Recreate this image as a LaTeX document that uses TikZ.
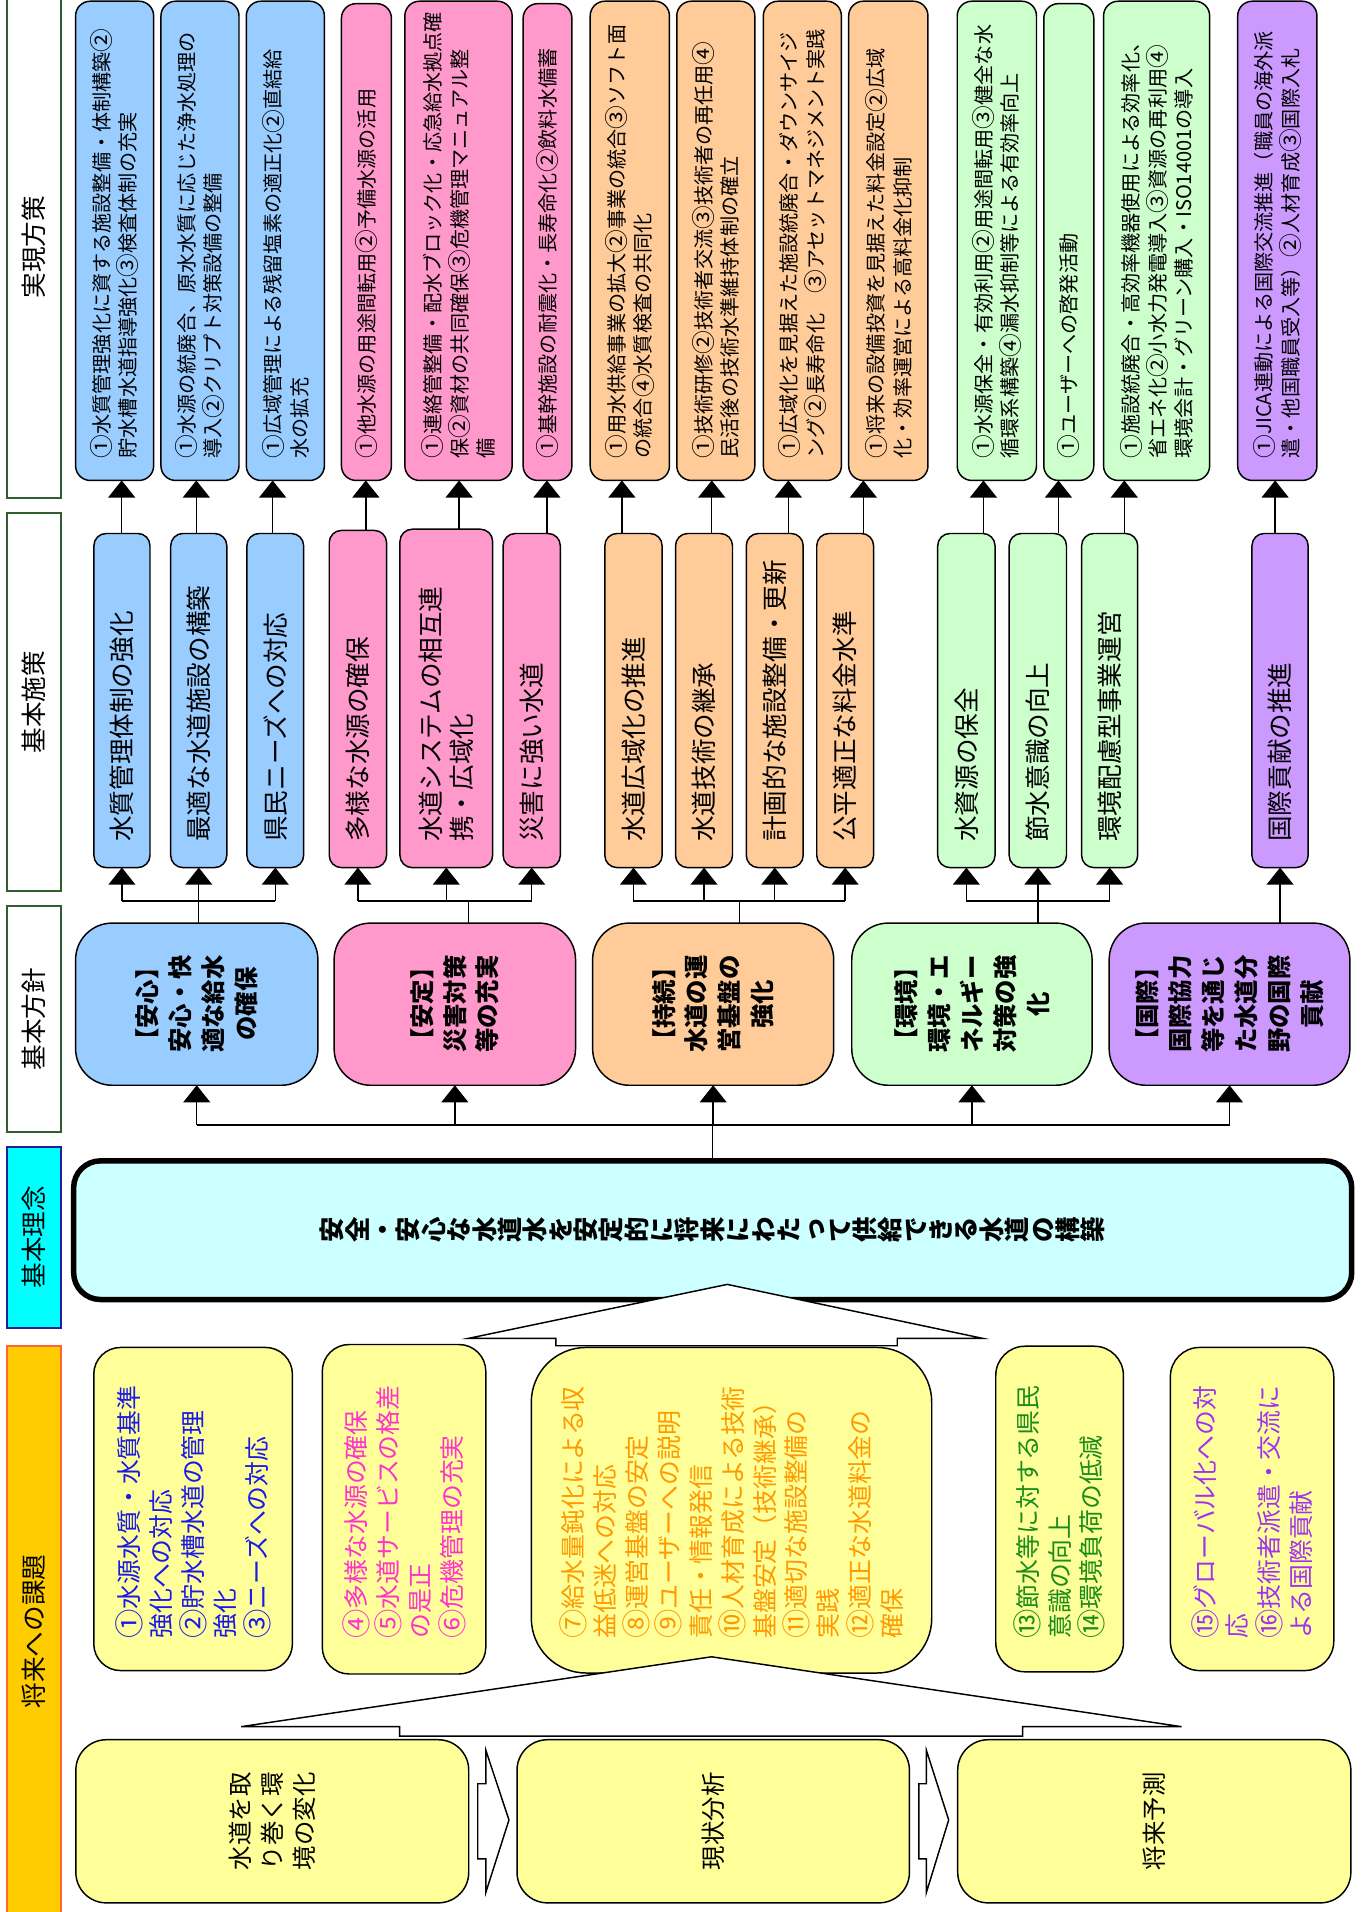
\documentclass[tikz,border=0pt]{standalone}
\usepackage{fontspec}
\usepackage{newunicodechar}
\setmainfont{Noto Sans CJK JP}
\usetikzlibrary{arrows.meta,calc}
\definecolor{cBlue}{HTML}{99CCFF}
\definecolor{cPink}{HTML}{FF99CC}
\definecolor{cOrange}{HTML}{FFCC99}
\definecolor{cGreen}{HTML}{CCFFCC}
\definecolor{cPurple}{HTML}{CC99FF}
\definecolor{cYellow}{HTML}{FFFF99}
\definecolor{cLCyan}{HTML}{CCFFFF}
\definecolor{cCyan}{HTML}{00FFFF}
\definecolor{cGold}{HTML}{FFCC00}
\definecolor{lGreen}{HTML}{2F5F2F}
\definecolor{lNavy}{HTML}{1F1F99}
\definecolor{lOrange}{HTML}{FF6633}
\definecolor{tBlue}{HTML}{1A1AE6}
\definecolor{tMag}{HTML}{FF33CC}
\definecolor{tOrg}{HTML}{FF9900}
\definecolor{tGrn}{HTML}{1A8C1A}
\definecolor{tPur}{HTML}{A033F0}
\newcommand\fs[2]{\fontsize{#1}{#2}\selectfont}
\newcommand\bx[6]{\node[#6,minimum width={#4-#2},minimum height={#5-#3}] (#1) at ({(#2+#4)/2},{(#3+#5)/2}) {};}
\def\rotchars#1{\ifx#1\relax\else\rotatebox{90}{\raisebox{0pt}[0.88em][0.12em]{#1}}\expandafter\rotchars\fi}
\newcommand\cnum[1]{\raisebox{-0.07em}{\scalebox{1.18}{\char#1\relax}}}
\newunicodechar{①}{\cnum{"2460}}
\newunicodechar{②}{\cnum{"2461}}
\newunicodechar{③}{\cnum{"2462}}
\newunicodechar{④}{\cnum{"2463}}
\newunicodechar{⑤}{\cnum{"2464}}
\newunicodechar{⑥}{\cnum{"2465}}
\newunicodechar{⑦}{\cnum{"2466}}
\newunicodechar{⑧}{\cnum{"2467}}
\newunicodechar{⑨}{\cnum{"2468}}
\newunicodechar{⑩}{\cnum{"2469}}
\newunicodechar{⑪}{\cnum{"246A}}
\newunicodechar{⑫}{\cnum{"246B}}
\newunicodechar{⑬}{\cnum{"246C}}
\newunicodechar{⑭}{\cnum{"246D}}
\newunicodechar{⑮}{\cnum{"246E}}
\newunicodechar{⑯}{\cnum{"246F}}
\begin{document}
\begin{tikzpicture}[x=1pt,y=-1pt,
  box/.style={rectangle,draw=black,line width=1.2pt,inner sep=0pt,outer sep=0pt},
  lbl/.style={rectangle,draw=lGreen,line width=1.6pt,fill=white,inner sep=0pt,outer sep=0pt},
  rtext/.style={rotate=90,inner sep=0pt,align=left,text=black},
  ln/.style={line width=1.2pt},
  arr/.style={line width=1.2pt,-{Triangle[width=22pt,length=14pt]}},
  rfont/.style={font=\fs{16.5}{21.7}},
  sfont/.style={font=\fs{21}{25.6}},
  hfont/.style={font=\bfseries\fs{20}{27}},
  ifont/.style={font=\fs{20.4}{26.2}},
  bfont/.style={font=\fs{20}{26.5}}]
\useasboundingbox (0,0) rectangle (1117,1568);
\clip (0,0) rectangle (1117,1568);

% ---------- row labels ----------
\bx{L1}{5.7}{-3}{50}{408.7}{lbl}
\bx{L2}{5.7}{421}{50}{731}{lbl}
\bx{L3}{5.7}{743}{50}{928.4}{lbl}
\bx{L4}{5.7}{940.4}{50}{1089}{lbl,draw=lNavy,fill=cCyan}
\bx{L5}{5.7}{1104}{50}{1572}{lbl,draw=lOrange,fill=cGold}
\node[rtext,font=\fs{21}{25}] (tL1) at (L1.center) {実現方策};
\node[rtext,font=\fs{21}{25}] (tL2) at (L2.center) {基本施策};
\node[rtext,font=\fs{21}{25}] (tL3) at (L3.center) {基本方針};
\node[rtext,font=\fs{21}{25}] (tL4) at (L4.center) {基本理念};
\node[rtext,font=\fs{21}{25}] (tL5) at (L5.center) {将来への課題};

% ---------- 実現方策 boxes ----------
\bx{R1}{62}{1}{126}{394}{box,fill=cBlue,rounded corners=12pt}
\bx{R2}{132}{1}{196}{394}{box,fill=cBlue,rounded corners=12pt}
\bx{R3}{202}{1}{266}{394}{box,fill=cBlue,rounded corners=12pt}
\bx{R4}{280}{3}{321}{394}{box,fill=cPink,rounded corners=12pt}
\bx{R5}{332}{1}{420}{394}{box,fill=cPink,rounded corners=12pt}
\bx{R6}{429}{3}{469}{394}{box,fill=cPink,rounded corners=12pt}
\bx{R7}{484}{1}{549}{394}{box,fill=cOrange,rounded corners=12pt}
\bx{R8}{555}{1}{619}{394}{box,fill=cOrange,rounded corners=12pt}
\bx{R9}{626}{1}{690}{394}{box,fill=cOrange,rounded corners=12pt}
\bx{R10}{696}{1}{761}{394}{box,fill=cOrange,rounded corners=12pt}
\bx{R11}{785}{1}{850}{394}{box,fill=cGreen,rounded corners=12pt}
\bx{R12}{856}{3}{897}{394}{box,fill=cGreen,rounded corners=12pt}
\bx{R13}{905}{1}{992}{394}{box,fill=cGreen,rounded corners=12pt}
\bx{R14}{1015}{1}{1080}{394}{box,fill=cPurple,rounded corners=12pt}

\node[rtext,rfont,anchor=west] (tR1) at ($(R1.south)+(0,-18)$) {①水質管理強化に資する施設整備・体制構築②\\貯水槽水道指導強化③検査体制の充実};
\node[rtext,rfont,anchor=west] (tR2) at ($(R2.south)+(0,-18)$) {①水源の統廃合、原水水質に応じた浄水処理の\\導入②クリプト対策設備の整備};
\node[rtext,rfont,anchor=west] (tR3) at ($(R3.south)+(0,-18)$) {①広域管理による残留塩素の適正化②直結給\\水の拡充};
\node[rtext,rfont,anchor=west] (tR4) at ($(R4.south)+(0,-18)$) {①他水源の用途間転用②予備水源の活用};
\node[rtext,rfont,anchor=west] (tR5) at ($(R5.south)+(0,-18)$) {①連絡管整備・配水ブロック化・応急給水拠点確\\保②資材の共同確保③危機管理マニュアル整\\備};
\node[rtext,rfont,anchor=west] (tR6) at ($(R6.south)+(0,-18)$) {①基幹施設の耐震化・長寿命化②飲料水備蓄};
\node[rtext,rfont,anchor=west] (tR7) at ($(R7.south)+(0,-18)$) {①用水供給事業の拡大②事業の統合③ソフト面\\の統合④水質検査の共同化};
\node[rtext,rfont,anchor=west] (tR8) at ($(R8.south)+(0,-18)$) {①技術研修②技術者交流③技術者の再任用④\\民活後の技術水準維持体制の確立};
\node[rtext,rfont,anchor=west] (tR9) at ($(R9.south)+(0,-18)$) {①広域化を見据えた施設統廃合・ダウンサイジ\\ング②長寿命化　③アセットマネジメント実践};
\node[rtext,rfont,anchor=west] (tR10) at ($(R10.south)+(0,-18)$) {①将来の設備投資を見据えた料金設定②広域\\化・効率運営による高料金化抑制};
\node[rtext,rfont,anchor=west] (tR11) at ($(R11.south)+(0,-18)$) {①水源保全・有効利用②用途間転用③健全な水\\循環系構築④漏水抑制等による有効率向上};
\node[rtext,rfont,anchor=west] (tR12) at ($(R12.south)+(0,-18)$) {①ユーザーへの啓発活動};
\node[rtext,rfont,anchor=west] (tR13) at ($(R13.south)+(0,-18)$) {①施設統廃合・高効率機器使用による効率化、\\省エネ化②小水力発電導入③資源の再利用④\\環境会計・グリーン購入・ISO14001の導入};
\node[rtext,rfont,anchor=west] (tR14) at ($(R14.south)+(0,-18)$) {①JICA連動による国際交流推進（職員の海外派\\遣・他国職員受入等）②人材育成③国際入札};

% ---------- 基本施策 boxes ----------
\bx{S1}{77}{437.5}{123}{711.5}{box,fill=cBlue,rounded corners=10pt}
\bx{S2}{140}{437.5}{186}{711.5}{box,fill=cBlue,rounded corners=10pt}
\bx{S3}{202.5}{437.5}{249}{711.5}{box,fill=cBlue,rounded corners=10pt}
\bx{S4}{270}{435}{317}{711.5}{box,fill=cPink,rounded corners=10pt}
\bx{S5}{328}{434}{404}{711.5}{box,fill=cPink,rounded corners=10pt}
\bx{S6}{412.6}{437.5}{459.5}{711.5}{box,fill=cPink,rounded corners=10pt}
\bx{S7}{496}{437.5}{543}{711.5}{box,fill=cOrange,rounded corners=10pt}
\bx{S8}{554}{437.5}{600.7}{711.5}{box,fill=cOrange,rounded corners=10pt}
\bx{S9}{612}{437.5}{658.7}{711.5}{box,fill=cOrange,rounded corners=10pt}
\bx{S10}{669.8}{437.5}{716.4}{711.5}{box,fill=cOrange,rounded corners=10pt}
\bx{S11}{769}{437.5}{816}{711.5}{box,fill=cGreen,rounded corners=10pt}
\bx{S12}{827.6}{437.5}{874.6}{711.5}{box,fill=cGreen,rounded corners=10pt}
\bx{S13}{887}{437.5}{933}{711.5}{box,fill=cGreen,rounded corners=10pt}
\bx{S14}{1026.7}{437.5}{1072.8}{711.5}{box,fill=cPurple,rounded corners=10pt}

\node[rtext,sfont,anchor=west] (tS1) at ($(S1.south)+(0,-21)$) {水質管理体制の強化};
\node[rtext,sfont,anchor=west] (tS2) at ($(S2.south)+(0,-21)$) {最適な水道施設の構築};
\node[rtext,sfont,anchor=west] (tS3) at ($(S3.south)+(0,-21)$) {県民ニーズへの対応};
\node[rtext,sfont,anchor=west] (tS4) at ($(S4.south)+(0,-21)$) {多様な水源の確保};
\node[rtext,sfont,anchor=west] (tS5) at ($(S5.south)+(0,-21)$) {水道システムの相互連\\携・広域化};
\node[rtext,sfont,anchor=west] (tS6) at ($(S6.south)+(0,-21)$) {災害に強い水道};
\node[rtext,sfont,anchor=west] (tS7) at ($(S7.south)+(0,-21)$) {水道広域化の推進};
\node[rtext,sfont,anchor=west] (tS8) at ($(S8.south)+(0,-21)$) {水道技術の継承};
\node[rtext,sfont,anchor=west] (tS9) at ($(S9.south)+(0,-21)$) {計画的な施設整備・更新};
\node[rtext,sfont,anchor=west] (tS10) at ($(S10.south)+(0,-21)$) {公平適正な料金水準};
\node[rtext,sfont,anchor=west] (tS11) at ($(S11.south)+(0,-21)$) {水資源の保全};
\node[rtext,sfont,anchor=west] (tS12) at ($(S12.south)+(0,-21)$) {節水意識の向上};
\node[rtext,sfont,anchor=west] (tS13) at ($(S13.south)+(0,-21)$) {環境配慮型事業運営};
\node[rtext,sfont,anchor=west] (tS14) at ($(S14.south)+(0,-21)$) {国際貢献の推進};

% arrows 施策 -> 方策
\foreach \s/\r/\x in {S1/R1/99.8,S2/R2/161,S3/R3/223.6,S4/R4/300,S5/R5/376.5,S6/R6/448.5,S7/R7/510,S8/R8/583.7,S9/R9/646.5,S10/R10/708,S11/R11/806.5,S12/R12/868,S13/R13/922,S14/R14/1045.7}{
  \coordinate (ax) at (\x,0);
  \draw[arr] (\s.north -| ax) -- (\r.south -| ax);
}

% ---------- 基本方針 boxes ----------
\bx{H1}{62}{757}{260.7}{890}{box,fill=cBlue,rounded corners=30pt}
\bx{H2}{274}{757}{472}{890}{box,fill=cPink,rounded corners=30pt}
\bx{H3}{486}{757}{683.7}{890}{box,fill=cOrange,rounded corners=30pt}
\bx{H4}{698.5}{757}{895.6}{890}{box,fill=cGreen,rounded corners=30pt}
\bx{H5}{909.6}{757}{1107}{890}{box,fill=cPurple,rounded corners=30pt}
\node[rtext,hfont,align=center] (tH1) at (H1.center) {【安心】\\安心・快\\適な給水\\の確保};
\node[rtext,hfont,align=center] (tH2) at (H2.center) {【安定】\\災害対策\\等の充実};
\node[rtext,hfont,align=center] (tH3) at (H3.center) {【持続】\\水道の運\\営基盤の\\強化};
\node[rtext,hfont,align=center] (tH4) at (H4.center) {【環境】\\環境・エ\\ネルギー\\対策の強\\化};
\node[rtext,hfont,align=center] (tH5) at (H5.center) {【国際】\\国際協力\\等を通じ\\た水道分\\野の国際\\貢献};

% connectors 方針 -> 施策
\coordinate (jy) at (0,739);
\coordinate (xP) at (384.4,0);
\coordinate (xO) at (606.3,0);
\draw[ln] (S2.south |- H1.north) -- (S2.south |- jy);
\draw[ln] (S1.south |- jy) -- (S3.south |- jy);
\foreach \n in {S1,S2,S3} \draw[arr] (\n.south |- jy) -- (\n.south);
\draw[ln] (xP |- H2.north) -- (xP |- jy);
\draw[ln] (S4.south |- jy) -- (S6.south |- jy);
\foreach \n in {S4,S5,S6} \draw[arr] (\n.south |- jy) -- (\n.south);
\draw[ln] (xO |- H3.north) -- (xO |- jy);
\draw[ln] (S7.south |- jy) -- (S10.south |- jy);
\foreach \n in {S7,S8,S9,S10} \draw[arr] (\n.south |- jy) -- (\n.south);
\draw[ln] (S12.south |- H4.north) -- (S12.south |- jy);
\draw[ln] (S11.south |- jy) -- (S13.south |- jy);
\foreach \n in {S11,S12,S13} \draw[arr] (\n.south |- jy) -- (\n.south);
\draw[arr] (S14.south |- H5.north) -- (S14.south);

% ---------- 基本理念 ----------
\bx{K}{60.4}{952}{1108.5}{1065.7}{box,fill=cLCyan,line width=4.5pt,rounded corners=22pt}
\node[inner sep=0pt,font=\bfseries\fs{20.8}{25}] (tK) at (K.center) {\rotchars 安全・安心な水道水を安定的に将来にわたって供給できる水道の構築\relax};
\coordinate (jk) at (0,922.5);
\draw[ln] (K.north) -- (K.north |- jk);
\draw[ln] (H1.south |- jk) -- (H5.south |- jk);
\foreach \n in {H1,H2,H3,H4,H5} \draw[arr] (\n.south |- jk) -- (\n.south);

% upper block arrow
\draw[ln,fill=white] (455.8,1103.6) -- (455.8,1097.5) -- (384.4,1097.5) -- (596.4,1053.3) -- (805.6,1097.5) -- (735.8,1097.5) -- (735.8,1103.6) -- cycle;

% ---------- 課題 boxes ----------
\bx{IA}{76.9}{1105}{239.8}{1370}{box,fill=cYellow,rounded corners=22pt}
\bx{IB}{264.3}{1102.6}{398.4}{1372.8}{box,fill=cYellow,rounded corners=22pt}
\bx{IC}{435.7}{1105}{764.1}{1372}{box,fill=cYellow,rounded corners=45pt}
\bx{ID}{816.6}{1104}{921.3}{1371}{box,fill=cYellow,rounded corners=24pt}
\bx{IE}{959.8}{1105}{1093.8}{1370}{box,fill=cYellow,rounded corners=24pt}
\node[rtext,ifont,text=tBlue,anchor=west] (tIA) at ($(IA.south)+(0,-26)$) {①水源水質・水質基準\\強化への対応\\②貯水槽水道の管理\\強化\\③ニーズへの対応};
\node[rtext,ifont,text=tMag,anchor=west] (tIB) at ($(IB.south)+(0,-28.8)$) {④多様な水源の確保\\⑤水道サービスの格差\\の是正\\⑥危機管理の充実};
\node[rtext,ifont,text=tOrg,anchor=west] (tIC) at ($(IC.south)+(0,-28)$) {⑦給水量鈍化による収\\益低迷への対応\\⑧運営基盤の安定\\⑨ユーザーへの説明\\責任・情報発信\\⑩人材育成による技術\\基盤安定（技術継承）\\⑪適切な施設整備の\\実践\\⑫適正な水道料金の\\確保};
\node[rtext,ifont,text=tGrn,anchor=west] (tID) at ($(ID.south)+(0,-27)$) {⑬節水等に対する県民\\意識の向上\\⑭環境負荷の低減};
\node[rtext,ifont,text=tPur,anchor=west] (tIE) at ($(IE.south)+(0,-26)$) {⑮グローバル化への対\\応\\⑯技術者派遣・交流に\\よる国際貢献};

% lower block arrow
\draw[ln,fill=white] (327.7,1423.8) -- (327.7,1416) -- (197.7,1416) -- (583.5,1358.7) -- (969,1416) -- (838.7,1416) -- (838.7,1423.8) -- cycle;

% ---------- bottom boxes ----------
\bx{BB1}{62.2}{1426.7}{384.4}{1560.5}{box,fill=cYellow,rounded corners=25pt}
\bx{BB2}{424}{1426.7}{745.8}{1560.5}{box,fill=cYellow,rounded corners=25pt}
\bx{BB3}{785.4}{1426.7}{1107.8}{1560.5}{box,fill=cYellow,rounded corners=25pt}
\node[rtext,bfont,align=center] (tB1) at (BB1.center) {水道を取\\り巻く環\\境の変化};
\node[rtext,bfont,align=center] (tB2) at (BB2.center) {現状分析};
\node[rtext,bfont,align=center] (tB3) at (BB3.center) {将来予測};

% hollow arrows between bottom boxes
\draw[ln,fill=white] (391.8,1462.8) -- (398.4,1462.8) -- (398.4,1435.3) -- (417.4,1492.5) -- (398.4,1552) -- (398.4,1524.4) -- (391.8,1524.4) -- cycle;
\draw[ln,fill=white] (753.5,1462.8) -- (759.7,1462.8) -- (759.7,1435.3) -- (778,1492.5) -- (759.7,1552) -- (759.7,1524.4) -- (753.5,1524.4) -- cycle;
\end{tikzpicture}
\end{document}
